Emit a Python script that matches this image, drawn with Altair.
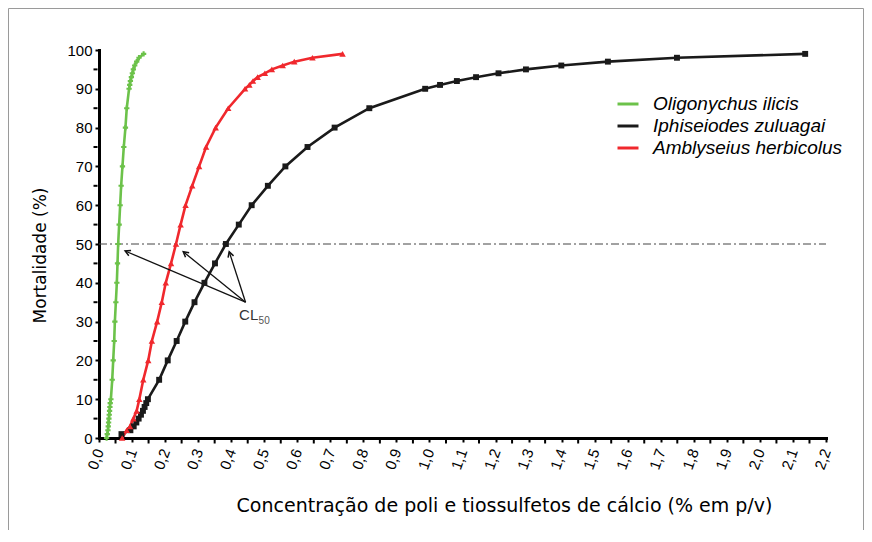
import altair as alt
import pandas as pd
import numpy as np

# ---- data ----
species = ["Oligonychus ilicis", "Iphiseiodes zuluagai", "Amblyseius herbicolus"]
colors = ["#6cc24a", "#1a1a1a", "#f0282d"]
shapes = ["cross", "square", "triangle-up"]
sizes = [28, 42, 30]

green_x = [0.023, 0.025, 0.027, 0.028, 0.029, 0.030, 0.031, 0.032, 0.033, 0.034, 0.036,
           0.040, 0.043, 0.046, 0.048, 0.051, 0.054, 0.056, 0.058, 0.061, 0.064, 0.067,
           0.071, 0.075, 0.080, 0.084, 0.091, 0.093, 0.095, 0.098, 0.101, 0.104, 0.108,
           0.114, 0.121, 0.135]
green_y = [0, 1, 2, 3, 4, 5, 6, 7, 8, 9, 10,
           15, 20, 25, 30, 35, 40, 45, 50, 55, 60, 65,
           70, 75, 80, 85, 90, 91, 92, 93, 94, 95, 96,
           97, 98, 99]

black_x = [0.068, 0.095, 0.105, 0.113, 0.120, 0.127, 0.133, 0.138, 0.143, 0.148,
           0.182, 0.208, 0.235, 0.261, 0.289, 0.319, 0.351, 0.384, 0.423, 0.462,
           0.511, 0.564, 0.631, 0.713, 0.818, 0.987, 1.032, 1.083, 1.141, 1.209,
           1.292, 1.399, 1.540, 1.749, 2.137]
black_y = [1, 2, 3, 4, 5, 6, 7, 8, 9, 10,
           15, 20, 25, 30, 35, 40, 45, 50, 55, 60,
           65, 70, 75, 80, 85, 90, 91, 92, 93, 94,
           95, 96, 97, 98, 99]

red_x = [0.070, 0.084, 0.094, 0.104, 0.114, 0.122, 0.134, 0.149, 0.160, 0.176,
         0.190, 0.202, 0.218, 0.233, 0.247, 0.262, 0.282, 0.303, 0.324, 0.353,
         0.391, 0.442, 0.455, 0.466, 0.480, 0.502, 0.523, 0.556, 0.591, 0.646, 0.737]
red_y = [0, 2, 3, 5, 7, 10, 15, 20, 25, 30,
         35, 40, 45, 50, 55, 60, 65, 70, 75, 80,
         85, 90, 91, 92, 93, 94, 95, 96, 97, 98, 99]

# axis ticks
x_major = [round(v * 0.1, 1) for v in range(0, 23)]
x_minor = [round(0.05 + v * 0.1, 2) for v in range(0, 22)]
y_major = list(range(0, 101, 10))
y_minor = list(range(5, 100, 10))

# CL50 annotation (data coordinates)
arrow_start = (0.4435, 35.0)
arrow_tips_x = [0.079, 0.255, 0.394]
arrow_tips_y = [48.2, 48.0, 48.0]
cl_label_pos = (0.424, 31.7)
cl_sub_pos = (0.483, 30.2)

X_MAX, Y_MAX = 2.2, 100
W, H = 727, 388

rows = []
for sp, xs, ys in zip(species, [green_x, black_x, red_x], [green_y, black_y, red_y]):
    for i, (xv, yv) in enumerate(zip(xs, ys)):
        rows.append({"sp": sp, "x": xv, "y": yv, "i": i})
df = pd.DataFrame(rows)

xscale = alt.Scale(domain=[0, X_MAX], nice=False, zero=False)
yscale = alt.Scale(domain=[0, Y_MAX], nice=False)
cscale = alt.Scale(domain=species, range=colors)

xaxis = alt.Axis(
    values=x_major,
    labelExpr="replace(format(datum.value, '.1f'), '.', ',')",
    labelAngle=-70, labelPadding=7, labelFontSize=15, labelOverlap=False,
    title="Concentração de poli e tiossulfetos de cálcio (% em p/v)",
    titleFont="DejaVu Sans", titleFontSize=19, titleFontWeight="normal",
    titleX=405, titleY=67, titleBaseline="middle", titleAlign="center",
)
yaxis = alt.Axis(
    values=y_major,
    labelPadding=3, labelFontSize=15, labelOverlap=False,
    title="Mortalidade (%)",
    titleFont="DejaVu Sans", titleFontSize=17, titleFontWeight="normal",
    titleX=-59, titleY=205, titleBaseline="middle", titleAlign="center", titleAngle=-90,
)

base = alt.Chart(df)

lines = base.mark_line(strokeWidth=2.6).encode(
    x=alt.X("x:Q", scale=xscale, axis=xaxis),
    y=alt.Y("y:Q", scale=yscale, axis=yaxis),
    color=alt.Color("sp:N", scale=cscale, sort=species,
                    legend=alt.Legend(title=None, orient="none", legendX=517, legendY=42,
                                      symbolType="stroke", symbolSize=441, symbolStrokeWidth=3,
                                      labelFont="Liberation Sans", labelFontSize=19,
                                      labelFontStyle="italic", labelColor="black",
                                      labelLimit=0, labelOffset=13, rowPadding=-3, padding=0)),
    order="i:Q",
)

points = base.mark_point(filled=True, opacity=1).encode(
    x=alt.X("x:Q", axis=xaxis), y=alt.Y("y:Q", axis=yaxis),
    color=alt.Color("sp:N", scale=cscale, legend=None),
    shape=alt.Shape("sp:N", scale=alt.Scale(domain=species, range=shapes), legend=None),
    size=alt.Size("sp:N", scale=alt.Scale(domain=species, range=sizes), legend=None),
)

# minor ticks
xminor = alt.Chart(pd.DataFrame({"x": x_minor})).mark_rule(color="black", strokeWidth=2).encode(
    x=alt.X("x:Q", axis=xaxis), y=alt.value(H + 1.5), y2=alt.value(H + 5.5))
yminor = alt.Chart(pd.DataFrame({"y": y_minor})).mark_rule(color="black", strokeWidth=2).encode(
    y=alt.Y("y:Q", axis=yaxis), x=alt.value(-1.5), x2=alt.value(-5.5))

ref = alt.Chart(pd.DataFrame({"y": [50], "x": [0], "x1": [X_MAX]})).mark_rule(
    color="#444", strokeWidth=1, strokeDash=[8, 3, 2, 3]
).encode(x=alt.X("x:Q", axis=xaxis), x2="x1:Q", y=alt.Y("y:Q", axis=yaxis))

kx, ky = W / X_MAX, H / Y_MAX
adf = pd.DataFrame({
    "x": [arrow_start[0]] * 3, "y": [arrow_start[1]] * 3,
    "x1": arrow_tips_x, "y1": arrow_tips_y,
})
adf["angle"] = [
    (np.degrees(np.arctan2((tx - arrow_start[0]) * kx, (ty - arrow_start[1]) * ky)) + 360) % 360
    for tx, ty in zip(arrow_tips_x, arrow_tips_y)
]
hdf = pd.DataFrame({"x": arrow_tips_x, "y": arrow_tips_y, "angle": adf["angle"]})

arrow_lines = alt.Chart(adf).mark_rule(color="#111", strokeWidth=1.3).encode(
    x=alt.X("x:Q", axis=xaxis), y=alt.Y("y:Q", axis=yaxis), x2="x1:Q", y2="y1:Q")
arrow_heads = alt.Chart(hdf).mark_point(
    shape="M-0.55,1L0,0L0.55,1", filled=False, color="#111", strokeWidth=1.5, size=110, opacity=1
).encode(x=alt.X("x:Q", axis=xaxis), y=alt.Y("y:Q", axis=yaxis),
         angle=alt.Angle("angle:Q", scale=None))

cl_text = alt.Chart(pd.DataFrame({"x": [cl_label_pos[0]], "y": [cl_label_pos[1]], "t": ["CL"]})).mark_text(
    align="left", baseline="middle", font="Liberation Sans", fontSize=15, fill="#333"
).encode(x=alt.X("x:Q", axis=xaxis), y=alt.Y("y:Q", axis=yaxis), text="t:N")
cl_sub = alt.Chart(pd.DataFrame({"x": [cl_sub_pos[0]], "y": [cl_sub_pos[1]], "t": ["50"]})).mark_text(
    align="left", baseline="middle", font="Liberation Sans", fontSize=10, fill="#555"
).encode(x=alt.X("x:Q", axis=xaxis), y=alt.Y("y:Q", axis=yaxis), text="t:N")

frame = alt.Chart(pd.DataFrame({"a": [0]})).mark_rect(
    fill=None, stroke="#9a9a9a", strokeWidth=1
).encode(x=alt.value(-90.5), x2=alt.value(764.5), y=alt.value(-41.5), y2=alt.value(483.5))

chart = alt.layer(
    lines, frame, ref, xminor, yminor, arrow_lines, arrow_heads, points, cl_text, cl_sub
).resolve_legend(
    color="independent", shape="independent", size="independent"
).properties(
    width=W, height=H,
    autosize=alt.AutoSizeParams(type="none"),
    padding={"left": 91, "top": 42, "right": 38, "bottom": 92},
).configure_view(stroke=None).configure_axis(
    grid=False, domainColor="black", domainWidth=3, tickColor="black", tickWidth=2,
    tickSize=4, labelFont="Liberation Sans", labelColor="black", titleColor="black",
    domainCap="square", labelOverlap=False,
)

chart.save("out.html", embed_options={"renderer": "svg", "actions": False})
